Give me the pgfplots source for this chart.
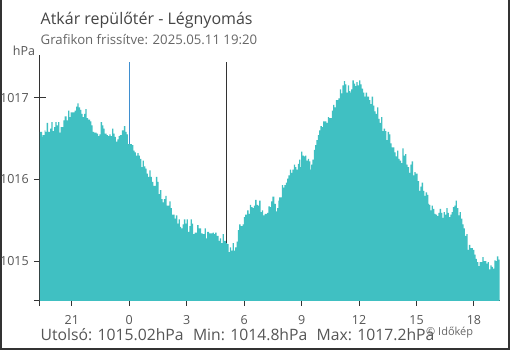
\documentclass[border=0pt]{standalone}
\usepackage{pgfplots}
\pgfplotsset{compat=1.18}
\usepackage{fontspec}
\setmainfont{Open Sans}
\definecolor{fillc}{HTML}{40C0C2}
\definecolor{axc}{HTML}{333333}
\definecolor{txtc}{HTML}{444444}
\definecolor{subc}{HTML}{666666}
\definecolor{tickc}{HTML}{555555}
\definecolor{bluel}{HTML}{3F8FD0}
\begin{document}
\begin{tikzpicture}
\useasboundingbox (0pt,0pt) rectangle (510pt,350pt);
\draw[color=axc, line width=1.6pt] (0.8pt,350pt) -- (0.8pt,0.8pt) -- (509.2pt,0.8pt) -- (509.2pt,350pt);
\node[anchor=base west, inner sep=0pt, text=txtc, font=\fontsize{16}{18}\selectfont] at (40.5pt,325pt) {Atkár repülőtér - Légnyomás};
\node[anchor=base west, inner sep=0pt, text=subc, font=\fontsize{13.2}{15}\selectfont] at (40.5pt,305.7pt) {Grafikon frissítve: 2025.05.11 19:20};
\node[anchor=base west, inner sep=0pt, text=tickc, font=\fontsize{12.5}{14}\selectfont] at (12.7pt,294pt) {hPa};
\begin{axis}[
  at={(39.9pt,49.5pt)}, anchor=south west,
  scale only axis, width=459.6pt, height=245.5pt,
  xmin=-4.667, xmax=19.333, ymin=1014.52, ymax=1017.52,
  axis x line*=bottom, axis y line*=left,
  axis line style={color=axc, line width=1pt},
  tick style={color=axc, line width=1pt},
  major tick length=5pt, tick align=outside,
  xtick={-4.667,-3,0,3,6,9,12,15,18},
  xticklabels={,21,0,3,6,9,12,15,18},
  ytick=\empty,
  extra y ticks={1014.52,1015,1016,1017},
  extra y tick labels={,1015,1016,1017},
  extra y tick style={major tick length=12pt, tick align=center},
  /pgf/number format/assume math mode=true,
  tick label style={font=\fontsize{12.5}{14}\selectfont, text=tickc, inner sep=0pt},
  xticklabel style={anchor=base, yshift=-19pt},
  yticklabel style={anchor=east, xshift=-5pt},
  clip=true,
]
\addplot[color=bluel, line width=1pt, forget plot] coordinates {(0,1014.52) (0,1017.44)};
\addplot[color=axc, line width=1pt, forget plot] coordinates {(5.06,1014.52) (5.06,1017.44)};
\addplot[fill=fillc, draw=none, const plot mark left] coordinates {
(-4.667,1014.4)
(-4.667,1016.58) (-4.554,1016.52) (-4.520,1016.54) (-4.415,1016.60) (-4.380,1016.58)
(-4.311,1016.69) (-4.241,1016.58) (-4.137,1016.62) (-4.067,1016.70) (-3.998,1016.59)
(-3.928,1016.64) (-3.859,1016.70) (-3.789,1016.66) (-3.720,1016.70) (-3.650,1016.57)
(-3.580,1016.64) (-3.441,1016.72) (-3.372,1016.77) (-3.267,1016.72) (-3.198,1016.84)
(-3.128,1016.76) (-3.059,1016.82) (-2.850,1016.84) (-2.781,1016.89) (-2.711,1016.93)
(-2.641,1016.88) (-2.572,1016.85) (-2.502,1016.80) (-2.433,1016.76) (-2.363,1016.80)
(-2.294,1016.86) (-2.224,1016.75) (-2.154,1016.73) (-2.050,1016.71) (-1.981,1016.66)
(-1.911,1016.58) (-1.841,1016.57) (-1.702,1016.56) (-1.633,1016.53) (-1.563,1016.55)
(-1.494,1016.70) (-1.424,1016.66) (-1.355,1016.62) (-1.285,1016.56) (-1.181,1016.54)
(-1.111,1016.53) (-1.042,1016.55) (-0.972,1016.53) (-0.902,1016.62) (-0.833,1016.56)
(-0.763,1016.52) (-0.694,1016.46) (-0.624,1016.49) (-0.555,1016.53) (-0.485,1016.54)
(-0.381,1016.60) (-0.277,1016.65) (-0.207,1016.58) (-0.138,1016.55) (-0.068,1016.43)
(0.141,1016.42) (0.210,1016.35) (0.280,1016.33) (0.349,1016.29) (0.419,1016.32)
(0.489,1016.29) (0.558,1016.25) (0.628,1016.15) (0.697,1016.23) (0.767,1016.16)
(0.836,1016.13) (0.906,1016.07) (0.975,1016.03) (1.045,1016.11) (1.115,1016.03)
(1.184,1015.97) (1.254,1015.92) (1.393,1016.03) (1.462,1015.97) (1.532,1015.82)
(1.601,1015.87) (1.671,1015.76) (1.741,1015.72) (1.810,1015.76) (1.880,1015.80)
(1.949,1015.68) (2.088,1015.73) (2.158,1015.65) (2.227,1015.57) (2.367,1015.52)
(2.436,1015.56) (2.506,1015.46) (2.575,1015.51) (2.645,1015.42) (2.714,1015.40)
(2.784,1015.45) (2.854,1015.51) (2.923,1015.46) (2.993,1015.51) (3.062,1015.36)
(3.132,1015.43) (3.201,1015.51) (3.271,1015.46) (3.340,1015.33) (3.410,1015.35)
(3.479,1015.35) (3.549,1015.44) (3.618,1015.40) (3.758,1015.34) (3.827,1015.33)
(3.931,1015.40) (4.001,1015.28) (4.071,1015.36) (4.175,1015.34) (4.349,1015.35)
(4.418,1015.33) (4.488,1015.35) (4.558,1015.31) (4.662,1015.25) (4.731,1015.28)
(4.801,1015.22) (4.871,1015.33) (4.940,1015.25) (5.044,1015.22) (5.114,1015.21)
(5.184,1015.11) (5.253,1015.17) (5.323,1015.13) (5.392,1015.22) (5.462,1015.13)
(5.531,1015.17) (5.601,1015.24) (5.670,1015.38) (5.740,1015.45) (5.810,1015.43)
(5.914,1015.45) (5.984,1015.54) (6.053,1015.57) (6.157,1015.62) (6.227,1015.58)
(6.297,1015.69) (6.366,1015.66) (6.436,1015.65) (6.505,1015.68) (6.575,1015.75)
(6.644,1015.69) (6.714,1015.68) (6.783,1015.74) (6.853,1015.60) (6.923,1015.62)
(6.992,1015.56) (7.062,1015.58) (7.201,1015.59) (7.270,1015.67) (7.340,1015.66)
(7.409,1015.73) (7.479,1015.79) (7.583,1015.70) (7.653,1015.61) (7.722,1015.65)
(7.792,1015.74) (7.827,1015.78) (7.966,1015.93) (8.035,1015.90) (8.105,1015.93)
(8.174,1015.96) (8.244,1016.01) (8.314,1016.05) (8.383,1016.12) (8.453,1016.08)
(8.522,1016.12) (8.592,1016.18) (8.661,1016.15) (8.731,1016.12) (8.800,1016.19)
(8.870,1016.24) (8.940,1016.15) (8.974,1016.34) (9.044,1016.29) (9.113,1016.28)
(9.183,1016.29) (9.253,1016.23) (9.322,1016.25) (9.392,1016.22) (9.461,1016.12)
(9.496,1016.18) (9.566,1016.24) (9.635,1016.36) (9.705,1016.42) (9.774,1016.48)
(9.844,1016.54) (9.913,1016.60) (9.983,1016.65) (10.052,1016.64) (10.122,1016.71)
(10.296,1016.69) (10.365,1016.76) (10.435,1016.75) (10.574,1016.84) (10.644,1016.91)
(10.713,1016.88) (10.783,1016.97) (10.922,1016.99) (10.992,1017.10) (11.061,1017.05)
(11.131,1017.15) (11.200,1017.20) (11.270,1017.16) (11.340,1017.06) (11.409,1017.15)
(11.479,1017.08) (11.548,1017.06) (11.583,1017.10) (11.652,1017.21) (11.722,1017.17)
(11.791,1017.14) (11.861,1017.19) (11.930,1017.15) (12.000,1017.21) (12.069,1017.16)
(12.139,1017.11) (12.209,1017.06) (12.278,1017.01) (12.348,1017.06) (12.417,1017.01)
(12.522,1016.97) (12.591,1016.92) (12.661,1017.01) (12.730,1016.90) (12.800,1016.83)
(12.869,1016.80) (12.939,1016.88) (13.009,1016.74) (13.078,1016.69) (13.148,1016.76)
(13.217,1016.59) (13.287,1016.62) (13.356,1016.59) (13.426,1016.48) (13.496,1016.58)
(13.565,1016.55) (13.635,1016.44) (13.704,1016.39) (13.843,1016.33) (13.913,1016.28)
(13.983,1016.35) (14.052,1016.25) (14.122,1016.23) (14.191,1016.20) (14.261,1016.38)
(14.330,1016.29) (14.400,1016.31) (14.470,1016.18) (14.539,1016.15) (14.609,1016.08)
(14.678,1016.18) (14.748,1016.22) (14.817,1016.05) (14.887,1016.09) (14.957,1016.07)
(15.061,1015.98) (15.130,1015.86) (15.200,1015.91) (15.270,1015.96) (15.339,1015.86)
(15.409,1015.80) (15.478,1015.84) (15.548,1015.81) (15.617,1015.70) (15.652,1015.69)
(15.721,1015.62) (15.791,1015.68) (15.860,1015.64) (15.930,1015.58) (16.000,1015.57)
(16.069,1015.55) (16.139,1015.59) (16.208,1015.64) (16.278,1015.59) (16.347,1015.53)
(16.417,1015.60) (16.486,1015.57) (16.556,1015.65) (16.625,1015.59) (16.695,1015.54)
(16.765,1015.57) (16.834,1015.60) (16.904,1015.66) (16.973,1015.68) (17.043,1015.74)
(17.112,1015.65) (17.182,1015.56) (17.252,1015.60) (17.321,1015.52) (17.391,1015.45)
(17.460,1015.40) (17.530,1015.31) (17.599,1015.33) (17.669,1015.14) (17.738,1015.20)
(17.808,1015.16) (17.947,1015.14) (18.017,1015.08) (18.086,1015.03) (18.156,1014.99)
(18.225,1014.94) (18.295,1014.99) (18.434,1015.05) (18.504,1015.00) (18.573,1015.00)
(18.643,1014.97) (18.712,1014.99) (18.782,1014.90) (18.852,1014.95) (18.921,1014.93)
(18.991,1014.91) (19.060,1015.01) (19.130,1015.00) (19.199,1015.06) (19.269,1015.02)
(19.333,1015.02)
(19.333,1014.4)
};
\end{axis}
\node[anchor=base west, inner sep=0pt, text=tickc, font=\fontsize{15.7}{18}\selectfont] at (40.5pt,10pt) {Utolsó: 1015.02hPa\hspace{0.6em}Min: 1014.8hPa\hspace{0.6em}Max: 1017.2hPa};
\node[anchor=base west, inner sep=0pt, text=subc, font=\fontsize{11}{12}\selectfont] at (426pt,14.3pt) {© Időkép};
\end{tikzpicture}
\end{document}
